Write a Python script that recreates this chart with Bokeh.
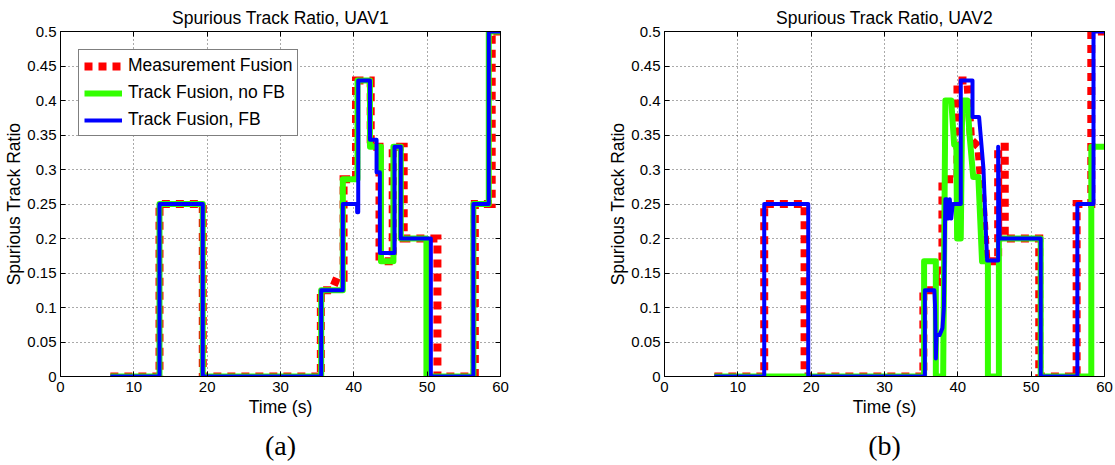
from bokeh.plotting import figure
from bokeh.models import Range1d, FixedTicker, LinearAxis, Title, Legend, LegendItem
from bokeh.layouts import row
from bokeh.embed import file_html
from bokeh.resources import INLINE

# ---------------- data ----------------
x_ticks = [0, 10, 20, 30, 40, 50, 60]
x_tick_labels = ["0", "10", "20", "30", "40", "50", "60"]
y_ticks = [0, 0.05, 0.1, 0.15, 0.2, 0.25, 0.3, 0.35, 0.4, 0.45, 0.5]
y_tick_labels = ["0", "0.05", "0.1", "0.15", "0.2", "0.25", "0.3", "0.35", "0.4", "0.45", "0.5"]

series_names = ["Measurement Fusion", "Track Fusion, no FB", "Track Fusion, FB"]

# UAV1 - Measurement Fusion
t1_mf = [6.8, 13.5, 13.5, 19.4, 19.4, 35.5, 35.5, 37.0, 37.7, 38.6, 38.6, 40.3, 40.3, 42.3, 42.3,
         43.5, 43.5, 45.3, 45.3, 46.8, 46.8, 51.4, 51.4, 56.5, 56.5, 58.8, 58.8, 60]
v1_mf = [0, 0, 0.25, 0.25, 0, 0, 0.125, 0.125, 0.143, 0.143, 0.286, 0.286, 0.429, 0.429, 0.333,
         0.333, 0.167, 0.167, 0.333, 0.333, 0.2, 0.2, 0, 0, 0.25, 0.25, 0.5, 0.5]
# UAV1 - Track Fusion, no FB
t1_nf = [6.8, 13.5, 13.5, 19.4, 19.4, 35.55, 35.55, 38.5, 38.5, 40.5, 40.5, 42.2, 42.2, 43.7, 43.7,
         45.4, 45.4, 46.4, 46.4, 49.9, 49.9, 56.3, 56.3, 58.4, 58.4, 60]
v1_nf = [0, 0, 0.25, 0.25, 0, 0, 0.125, 0.125, 0.286, 0.286, 0.429, 0.429, 0.333, 0.333, 0.167,
         0.167, 0.333, 0.333, 0.2, 0.2, 0, 0, 0.25, 0.25, 0.5, 0.5]
# UAV1 - Track Fusion, FB
t1_fb = [6.8, 13.5, 13.5, 19.4, 19.4, 35.55, 35.55, 38.5, 38.5, 40.45, 40.45, 40.6, 40.6, 42.2, 42.2,
         43.1, 43.1, 43.55, 43.55, 45.55, 45.55, 46.4, 46.4, 50.5, 50.5, 56.3, 56.3, 58.4, 58.4, 60]
v1_fb = [0, 0, 0.25, 0.25, 0, 0, 0.125, 0.125, 0.25, 0.25, 0.238, 0.238, 0.429, 0.429, 0.343,
         0.343, 0.296, 0.296, 0.179, 0.179, 0.333, 0.333, 0.2, 0.2, 0, 0, 0.25, 0.25, 0.5, 0.5]

# UAV2 - Measurement Fusion
t2_mf = [6.8, 13.6, 13.6, 19.1, 19.1, 35.3, 35.3, 37.0, 37.5, 37.9, 37.9, 39.95, 39.95, 41.3, 41.8,
         42.8, 43.4, 43.9, 45.5, 45.5, 46.4, 46.4, 51.1, 51.1, 56.2, 56.2, 58.2, 58.2, 60]
v2_mf = [0, 0, 0.25, 0.25, 0, 0, 0.125, 0.125, 0.143, 0.143, 0.286, 0.286, 0.429, 0.429, 0.343,
         0.333, 0.25, 0.167, 0.167, 0.333, 0.333, 0.2, 0.2, 0, 0, 0.25, 0.25, 0.5, 0.5]
# UAV2 - Track Fusion, no FB
t2_nf = [6.8, 35.4, 35.4, 37.0, 37.0, 38.0, 38.3, 39.1, 39.5, 39.8, 39.9, 40.4, 40.6, 41.3, 41.6,
         42.1, 42.8, 43.3, 44.1, 44.1, 45.6, 45.6, 51.3, 51.3, 58.2, 58.2, 60]
v2_nf = [0, 0, 0.167, 0.167, 0, 0, 0.4, 0.4, 0.336, 0.336, 0.2, 0.2, 0.4, 0.4, 0.35,
         0.289, 0.289, 0.167, 0.167, 0, 0, 0.2, 0.2, 0, 0, 0.333, 0.333]
# UAV2 - Track Fusion, FB
t2_fb = [6.8, 13.6, 13.6, 19.6, 19.6, 35.5, 35.5, 36.8, 36.9, 37.0, 37.1, 37.5, 37.9, 38.1, 38.3,
         38.5, 38.7, 38.9, 39.1, 39.3, 40.4, 40.4, 42.0, 42.0, 42.9, 43.3, 43.5, 43.8, 44.0, 45.5,
         45.5, 45.7, 51.3, 51.3, 56.3, 56.3, 58.5, 58.5, 60]
v2_fb = [0, 0, 0.25, 0.25, 0, 0, 0.125, 0.125, 0.1, 0.026, 0.06, 0.06, 0.07, 0.1, 0.257,
         0.257, 0.229, 0.257, 0.229, 0.25, 0.25, 0.429, 0.429, 0.376, 0.376, 0.326, 0.3, 0.216, 0.168, 0.168,
         0.333, 0.2, 0.2, 0, 0, 0.25, 0.25, 0.5, 0.5]

FONT = "Liberation Sans"
RED = "#FF0000"
GREEN = "#33FF00"
BLUE = "#0000FF"


def make_panel(title_text, caption, series, border_left, border_right, show_legend):
    p = figure(frame_width=440, frame_height=345,
               x_range=Range1d(0, 60), y_range=Range1d(0, 0.5),
               output_backend="svg", toolbar_location=None,
               min_border_left=border_left, min_border_right=border_right,
               min_border_top=31, min_border_bottom=89,
               x_axis_label="Time (s)", y_axis_label="Spurious Track Ratio")
    p.background_fill_color = "white"
    p.border_fill_color = "white"
    p.outline_line_color = "black"
    p.outline_line_width = 1

    p.title.text = title_text
    p.title.align = "center"
    p.title.text_font = FONT
    p.title.text_font_size = "17.5px"
    p.title.text_font_style = "normal"
    p.title.text_color = "black"
    p.title.standoff = 8

    xover = dict(zip(x_ticks, x_tick_labels))
    yover = dict(zip(y_ticks, y_tick_labels))

    for ax in p.xaxis:
        ax.ticker = FixedTicker(ticks=x_ticks)
        ax.major_label_overrides = xover
    for ax in p.yaxis:
        ax.ticker = FixedTicker(ticks=y_ticks)
        ax.major_label_overrides = yover
    for ax in list(p.xaxis) + list(p.yaxis):
        ax.major_tick_in = 5
        ax.major_tick_out = 0
        ax.minor_tick_line_color = None
        ax.axis_line_color = "black"
        ax.major_tick_line_color = "black"
        ax.major_label_text_font = FONT
        ax.major_label_text_font_size = "15px"
        ax.major_label_text_color = "black"
        ax.axis_label_text_font = FONT
        ax.axis_label_text_font_size = "17.5px"
        ax.axis_label_text_font_style = "normal"
        ax.axis_label_text_color = "black"
        ax.major_label_standoff = 5
        ax.axis_label_standoff = 2
    p.yaxis.axis_label_standoff = 0
    p.yaxis.major_label_standoff = 4

    # box ticks on top and right (no labels)
    top = LinearAxis(ticker=FixedTicker(ticks=x_ticks), major_tick_in=5, major_tick_out=0,
                     minor_tick_line_color=None, major_label_text_font_size="1px",
                     major_label_text_color=None, major_label_standoff=0, axis_line_color="black")
    right = LinearAxis(ticker=FixedTicker(ticks=y_ticks), major_tick_in=5, major_tick_out=0,
                       minor_tick_line_color=None, major_label_text_font_size="1px",
                       major_label_text_color=None, major_label_standoff=0, axis_line_color="black")
    p.add_layout(top, "above")
    p.add_layout(right, "right")

    p.xgrid.ticker = FixedTicker(ticks=x_ticks)
    p.ygrid.ticker = FixedTicker(ticks=y_ticks)
    for g in (p.xgrid, p.ygrid):
        g.grid_line_color = "#555555"
        g.grid_line_dash = "1 3"
        g.grid_line_width = 1

    (tm, vm), (tn, vn), (tf, vf) = series
    r_mf = p.line(tm, vm, line_color=RED, line_width=8, line_dash="8 6", line_join="miter", line_cap="butt")
    r_nf = p.line(tn, vn, line_color=GREEN, line_width=6, line_join="round")
    r_fb = p.line(tf, vf, line_color=BLUE, line_width=4, line_join="round")

    if show_legend:
        legend = Legend(items=[LegendItem(label=series_names[0], renderers=[r_mf]),
                               LegendItem(label=series_names[1], renderers=[r_nf]),
                               LegendItem(label=series_names[2], renderers=[r_fb])],
                        location=(18, 240))
        legend.border_line_color = "black"
        legend.border_line_width = 1
        legend.background_fill_color = "white"
        legend.background_fill_alpha = 1
        legend.label_text_font = FONT
        legend.label_text_font_size = "17.5px"
        legend.label_text_color = "black"
        legend.glyph_width = 38
        legend.glyph_height = 20
        legend.label_height = 20
        legend.spacing = 6
        legend.padding = 5
        legend.margin = 0
        legend.label_standoff = 6
        p.add_layout(legend, "center")

    cap = Title(text=caption, align="center", text_font="Liberation Serif",
                text_font_size="28px", text_font_style="normal", text_color="black", standoff=16)
    p.add_layout(cap, "below")
    return p


p1 = make_panel("Spurious Track Ratio, UAV1", "(a)",
                [(t1_mf, v1_mf), (t1_nf, v1_nf), (t1_fb, v1_fb)], 60, 60, True)
p2 = make_panel("Spurious Track Ratio, UAV2", "(b)",
                [(t2_mf, v2_mf), (t2_nf, v2_nf), (t2_fb, v2_fb)], 104, 11, False)

layout = row(p1, p2)
open("out.html", "w").write(file_html(layout, INLINE))
